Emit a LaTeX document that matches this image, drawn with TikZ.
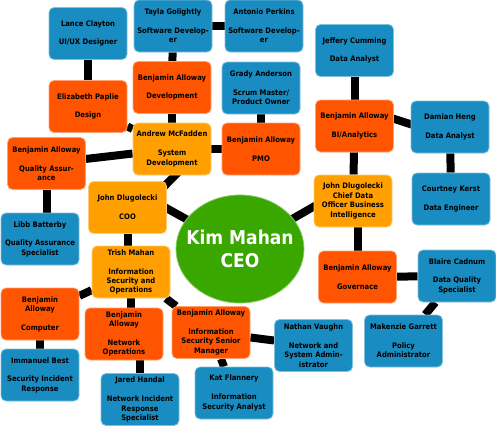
\documentclass[tikz,border=0pt]{standalone}
\usepackage{fontspec}
\setmainfont{DejaVu Sans Condensed}
\usepackage{xcolor}
\usepackage{tikz}
\usetikzlibrary{backgrounds, shapes.geometric}

\definecolor{staffblue}{RGB}{25,140,193}
\definecolor{leadred}{RGB}{255,85,0}
\definecolor{headorange}{RGB}{255,160,0}
\definecolor{ceogreen}{RGB}{58,166,0}

\begin{document}
\begin{tikzpicture}[
  x=1pt, y=-1pt,
  font=\bfseries\fontsize{7.6}{9.4}\selectfont,
  caixa/.style={rectangle, rounded corners=5pt, align=center, inner sep=0pt,
                minimum width=78pt, minimum height=52pt, line width=0.8pt},
  staff/.style={caixa, fill=staffblue, draw=staffblue!55!white},
  lead/.style={caixa, fill=leadred, draw=leadred!55!white},
  head/.style={caixa, fill=headorange, draw=headorange!55!white},
  ceo/.style={ellipse, fill=ceogreen, draw=ceogreen!60!white, line width=0.8pt,
              minimum width=128pt, minimum height=108pt, inner sep=0pt},
  ceotexto/.style={text=white, align=center, font=\bfseries\fontsize{19}{23}\selectfont},
  elo/.style={line width=8pt, draw=black}
]
\useasboundingbox (0,0) rectangle (496,426);

% ---------- Centro ----------
\node[ceo, label={[ceotexto]center:Kim Mahan\\CEO}] (kim) at (240,249) {};

% ---------- Ramo COO ----------
\node[head]  (coo)    at (127.5,207.5) {John Dlugolecki\\[9.4pt]COO};
\node[head]  (andrew) at (172,149)     {Andrew McFadden\\[9.4pt]System\\Development};
\node[lead]  (dev)    at (172,87.5)    {Benjamin Alloway\\[9.4pt]Development};
\node[staff] (tayla)  at (173,26)      {Tayla Golightly\\[9.4pt]Software Develop-\\er};
\node[staff] (antonio) at (264,26)     {Antonio Perkins\\[9.4pt]Software Develop-\\er};
\node[lead]  (design) at (88,106.5)    {Elizabeth Paplie\\[9.4pt]Design};
\node[staff] (lance)  at (88,33.5)     {Lance Clayton\\[9.4pt]UI/UX Designer};
\node[lead]  (pmo)    at (261,149)     {Benjamin Alloway\\[9.4pt]PMO};
\node[staff] (grady)  at (261,88)      {Grady Anderson\\[9.4pt]Scrum Master/\\Product Owner};
\node[lead]  (qa)     at (46.5,163.5)  {Benjamin Alloway\\[9.4pt]Quality Assur-\\ance};
\node[staff] (libb)   at (40,239)      {Libb Batterby\\[9.4pt]Quality Assurance\\Specialist};

% ---------- Seguranca e operacoes ----------
\node[head]  (trish)    at (131,272)   {Trish Mahan\\[9.4pt]Information\\Security and\\Operations};
\node[lead]  (computer) at (40,314)    {Benjamin\\Alloway\\[9.4pt]Computer};
\node[staff] (immanuel) at (40,375)    {Immanuel Best\\[9.4pt]Security Incident\\Response};
\node[lead]  (netops)   at (124,334)   {Benjamin\\Alloway\\[9.4pt]Network\\Operations};
\node[staff] (jared)    at (140,399.5) {Jared Handal\\[9.4pt]Network Incident\\Response\\Specialist};
\node[lead]  (issm)     at (211,332.5) {Benjamin Alloway\\[9.4pt]Information\\Security Senior\\Manager};
\node[staff] (kat)      at (234,393)   {Kat Flannery\\[9.4pt]Information\\Security Analyst};
\node[staff] (nathan)   at (313.5,345.5) {Nathan Vaughn\\[9.4pt]Network and\\System Admin-\\istrator};

% ---------- Ramo dados ----------
\node[head]  (cdo)      at (353,201)   {John Dlugolecki\\Chief Data\\Officer Business\\Intelligence};
\node[lead]  (bi)       at (354.5,126) {Benjamin Alloway\\[9.4pt]BI/Analytics};
\node[staff] (jeffery)  at (354.5,50.5) {Jeffery Cumming\\[9.4pt]Data Analyst};
\node[staff] (damian)   at (450,127)   {Damian Heng\\[9.4pt]Data Analyst};
\node[staff] (courtney) at (451,199)   {Courtney Kerst\\[9.4pt]Data Engineer};
\node[lead]  (gov)      at (357.5,277) {Benjamin Alloway\\[9.4pt]Governace};
\node[staff] (blaire)   at (457,276)   {Blaire Cadnum\\[9.4pt]Data Quality\\Specialist};
\node[staff] (makenzie) at (403.5,341) {Makenzie Garrett\\[9.4pt]Policy\\Administrator};

% ---------- Ligacoes (atras das caixas) ----------
\begin{scope}[on background layer]
  \draw[elo] ([yshift=21pt]coo.center) -- (kim.center);
  \draw[elo] (kim.center) -- ([yshift=17pt]cdo.center);
  \draw[elo] ([xshift=16pt]coo.center) -- ([xshift=29pt]andrew.center);
  \draw[elo] (coo) -- (coo |- trish);
  \draw[elo] (andrew) -- (dev);
  \draw[elo] (dev) -- (tayla);
  \draw[elo] (tayla) -- (antonio);
  \draw[elo] (andrew) -- (design);
  \draw[elo] (design) -- (lance);
  \draw[elo] (andrew) -- (pmo);
  \draw[elo] (pmo) -- (grady);
  \draw[elo] (andrew) -- (qa);
  \draw[elo] (qa) -- (qa |- libb);
  \draw[elo] (trish) -- (computer);
  \draw[elo] (computer) -- (immanuel);
  \draw[elo] (trish) -- (trish |- netops);
  \draw[elo] (jared) -- (jared |- netops);
  \draw[elo] (trish) -- (issm);
  \draw[elo] (issm) -- (kat);
  \draw[elo] (issm) -- (nathan);
  \draw[elo] (cdo) -- (bi);
  \draw[elo] (bi) -- (jeffery);
  \draw[elo] ([yshift=20pt]bi.center) -- ([yshift=-10pt]damian.center);
  \draw[elo] (damian) -- (courtney);
  \draw[elo] (gov) -- (gov |- cdo);
  \draw[elo] (gov) -- (blaire);
  \draw[elo] (blaire) -- (makenzie);
\end{scope}

\end{tikzpicture}
\end{document}
